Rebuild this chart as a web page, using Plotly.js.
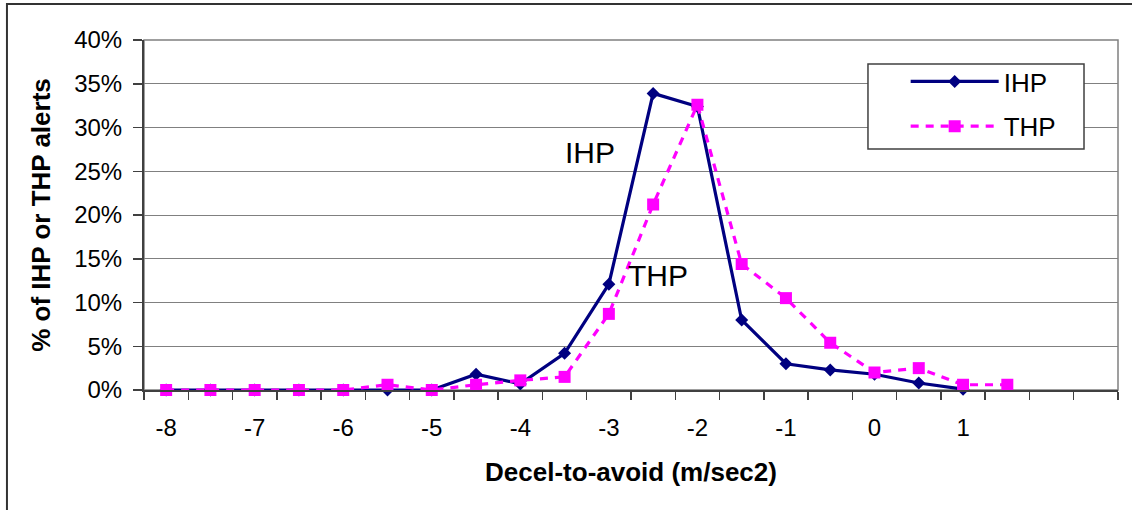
<!DOCTYPE html>
<html><head><meta charset="utf-8">
<script src="https://cdn.plot.ly/plotly-3.0.1.min.js"></script>
<style>html,body{margin:0;padding:0;background:#fff}</style>
</head><body>
<div id="chart" style="width:1132px;height:510px"></div>
<script>
// Category centres (m/sec2), one every 0.5
const categories = [-8,-7.5,-7,-6.5,-6,-5.5,-5,-4.5,-4,-3.5,-3,-2.5,-2,-1.5,-1,-0.5,0,0.5,1,1.5,2,2.5];
// % of alerts
const ihpValues = [0,0,0,0,0,0,0,1.8,0.7,4.2,12.1,33.9,32.4,8.0,3.0,2.3,1.8,0.8,0.1];
const thpValues = [0,0,0,0,0,0.6,0,0.6,1.1,1.5,8.7,21.2,32.6,14.4,10.5,5.4,2.0,2.5,0.6,0.6];
const tickVals = [-8,-7,-6,-5,-4,-3,-2,-1,0,1];
const tickLabels = ['-8','-7','-6','-5','-4','-3','-2','-1','0','1'];
const seriesNames = ['IHP','THP'];

const FONT = 'Liberation Sans, Arial, sans-serif';
const step = categories[1]-categories[0];
const xMin = categories[0]-step/2, xMax = categories[categories.length-1]+step/2;

const traces = [
  {x: categories.slice(0, ihpValues.length), y: ihpValues, name: seriesNames[0], legendgroup:'a',
   type:'scatter', mode:'lines+markers', cliponaxis:false,
   line:{color:'#000080', width:3.2}, marker:{symbol:'diamond', size:10, color:'#000080'}},
  {x: categories.slice(0, thpValues.length), y: thpValues, name: seriesNames[1], legendgroup:'b',
   type:'scatter', mode:'lines+markers', cliponaxis:false,
   line:{color:'#FF00FF', width:3.2, dash:'8px,7px'}, marker:{symbol:'square', size:12, color:'#FF00FF'}}
];

const layout = {
  width:1132, height:510,
  margin:{l:144, r:14, t:40, b:120},
  paper_bgcolor:'#fff', plot_bgcolor:'#fff',
  font:{family:FONT, color:'#000'},
  showlegend:true,
  legend:{x:0.782, y:0.9486, xanchor:'left', yanchor:'top', bgcolor:'rgba(0,0,0,0)',
    borderwidth:0, font:{size:26, family:FONT, color:'#000'},
    traceorder:'grouped', tracegroupgap:8, itemwidth:88},
  xaxis:{range:[xMin, xMax], tickmode:'array', tickvals:tickVals, ticktext:tickLabels,
    ticks:'', showgrid:false, zeroline:false, showline:true, linecolor:'#404040', linewidth:2,
    tickfont:{size:24, family:FONT, color:'#000'}, ticklabelstandoff:15,
    minor:{tickmode:'linear', tick0:xMin, dtick:step, ticks:'outside', ticklen:8, tickwidth:1.5, tickcolor:'#404040', showgrid:false},
    title:{text:'Decel-to-avoid (m/sec2)', font:{size:26, family:FONT, color:'#000', weight:'bold'}, standoff:23}},
  yaxis:{range:[0,40], tickmode:'linear', tick0:0, dtick:5, ticksuffix:'%',
    ticks:'outside', ticklen:9, tickwidth:1.5, tickcolor:'#404040', showline:true, linecolor:'#404040', linewidth:2,
    showgrid:true, gridcolor:'#808080', gridwidth:1, zeroline:false,
    tickfont:{size:24, family:FONT, color:'#000'}, ticklabelstandoff:6,
    title:{text:'% of IHP or THP alerts', font:{size:26, family:FONT, color:'#000', weight:'bold'}, standoff:16}},
  shapes:[
    {type:'rect', xref:'paper', yref:'paper', x0:0, x1:1, y0:0, y1:1, line:{color:'#808080', width:1.5}, layer:'below'},
    {type:'rect', xref:'paper', yref:'paper', x0:-0.1407, x1:1.2, y0:-0.5, y1:1.1029, line:{color:'#333', width:2}, layer:'below'},
    {type:'rect', xref:'paper', yref:'paper', x0:0.7433, x1:0.9651, y0:0.6886, y1:0.9314, fillcolor:'#fff', line:{color:'#404040', width:1.5}, layer:'above'}
  ],
  annotations:[
    {text:'IHP', x:-3.21, y:27.2, xref:'x', yref:'y', showarrow:false, font:{size:30, family:FONT, color:'#000'}},
    {text:'THP', x:-2.445, y:13.1, xref:'x', yref:'y', showarrow:false, font:{size:30, family:FONT, color:'#000'}}
  ]
};
Plotly.newPlot('chart', traces, layout, {displayModeBar:false, staticPlot:true});
</script>
</body></html>
